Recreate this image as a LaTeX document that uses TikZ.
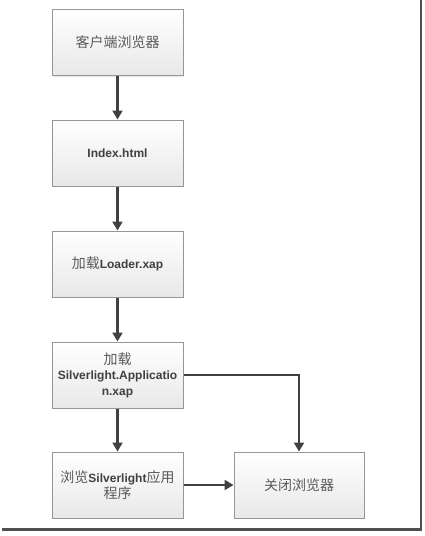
\documentclass[tikz,border=0pt]{standalone}
\usepackage{fontspec}
\setmainfont{Liberation Sans}
\newfontfamily\cjk{Noto Sans CJK SC}
\usetikzlibrary{arrows.meta,shadows}
\definecolor{boxedge}{RGB}{150,150,150}
\definecolor{boxlow}{RGB}{232,232,232}
\definecolor{inkgray}{RGB}{64,64,64}
\definecolor{zhgray}{RGB}{90,90,90}
\definecolor{framegray}{RGB}{80,80,80}
\tikzset{
  stepbox/.style={
    rectangle,
    draw=boxedge,
    line width=1pt,
    top color=white,
    bottom color=boxlow,
    drop shadow={opacity=0.18, shadow xshift=1.2pt, shadow yshift=-1.2pt},
    minimum width=131pt,
    minimum height=66pt,
    inner sep=2pt,
    align=center,
    text=inkgray,
    font=\fontsize{12}{15.5}\selectfont\bfseries
  },
  flow/.style={
    draw=inkgray,
    line width=2.2pt,
    -{Triangle[width=10pt,length=9pt]}
  },
  frameline/.style={draw=framegray, line width=2.2pt}
}
\newcommand{\zh}[1]{{\cjk\mdseries\fontsize{14}{15.5}\selectfont\color{zhgray}#1}}

\begin{document}
\begin{tikzpicture}[x=1pt, y=-1pt]
  \useasboundingbox (0,0) rectangle (425,536);
  % picture frame shadow
  \draw[frameline] (421,0) -- (421,529.5) -- (2,529.5);
  % main column
  \node[stepbox] (client) at (117.5,42.5) {\zh{客户端浏览器}};
  \node[stepbox] (index) at (117.5,153) {Index.html};
  \node[stepbox] (loader) at (117.5,264) {\zh{加载}Loader.xap};
  \node[stepbox] (silverapp) at (117.5,375)
    {\zh{加载}\\Silverlight.Applicatio\\n.xap};
  \node[stepbox] (browse) at (117.5,485)
    {\zh{浏览}Silverlight\zh{应用}\\\zh{程序}};
  \node[stepbox, minimum width=130pt] (closebrowser) at (299,485)
    {\zh{关闭浏览器}};
  % connectors
  \draw[flow] (client) -- (index);
  \draw[flow] (index) -- (loader);
  \draw[flow] (loader) -- (silverapp);
  \draw[flow] (silverapp) -- (browse);
  \draw[flow] (silverapp.east) -| (closebrowser.north);
  \draw[flow] (browse) -- (closebrowser);
\end{tikzpicture}
\end{document}
